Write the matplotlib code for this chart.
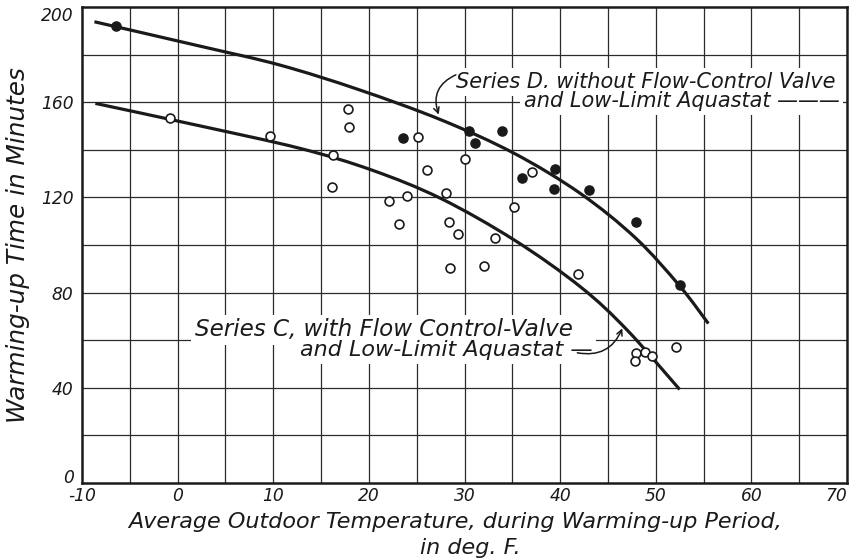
import matplotlib
matplotlib.use("Agg")
import matplotlib.pyplot as plt
from matplotlib.path import Path
from matplotlib.patches import PathPatch

# Measured points: Series D (without flow-control valve), solid dots
series_d_temp = [-6.4, 23.6, 30.5, 31.1, 33.9, 36.0, 39.5, 39.4, 43.0, 47.9, 52.5]
series_d_time = [192, 145, 148, 143, 148, 128, 132, 123.5, 123, 109.5, 83]

# Measured points: Series C (with flow-control valve), open circles
series_c_temp = [-0.8, 9.7, 17.8, 17.9, 25.1, 16.2, 30.0, 26.1, 16.1, 37.1,
                 22.1, 24.0, 28.1, 35.2, 23.1, 28.4, 29.3, 33.2, 28.5, 32.0,
                 41.9, 47.9, 48.9, 47.8, 49.6, 52.1]
series_c_time = [153.4, 146, 157, 149.7, 145.5, 137.8, 136.1, 131.5, 124.5, 130.8,
                 118.5, 120.6, 122, 116, 108.7, 109.5, 104.6, 103.1, 90.5, 91.3,
                 87.8, 54.8, 54.9, 51.4, 53.5, 57]

# Faired curves drawn through each series (knots of a smooth spline)
curve_d_temp = [-8.7, 2.4, 10.7, 19.0, 27.6, 35.2, 42.1, 47.9, 52.5, 55.5]
curve_d_time = [193.8, 183.5, 175.6, 165.2, 152.5, 138.5, 121.7, 102.9, 82.8, 67.0]

curve_c_temp = [-8.6, 2.4, 12.8, 20.3, 27.5, 35.2, 42.1, 47.0, 52.5]
curve_c_time = [159.5, 150.0, 140.6, 131.5, 119.6, 102.1, 82.5, 64.3, 39.3]

x_ticks = [-10, 0, 10, 20, 30, 40, 50, 60, 70]
y_ticks = [0, 40, 80, 120, 160, 200]

INK = "#1a1a1a"
FONT = dict(family="DejaVu Sans", style="oblique", color=INK)


def smooth_path(xs, ys):
    """Catmull-Rom spline through the knots, expressed as cubic Bezier segments."""
    pts = list(zip(xs, ys))
    verts = [pts[0]]
    codes = [Path.MOVETO]
    n = len(pts)
    for i in range(n - 1):
        p0 = pts[i - 1] if i > 0 else pts[i]
        p1 = pts[i]
        p2 = pts[i + 1]
        p3 = pts[i + 2] if i + 2 < n else pts[i + 1]
        c1 = (p1[0] + (p2[0] - p0[0]) / 6.0, p1[1] + (p2[1] - p0[1]) / 6.0)
        c2 = (p2[0] - (p3[0] - p1[0]) / 6.0, p2[1] - (p3[1] - p1[1]) / 6.0)
        verts += [c1, c2, p2]
        codes += [Path.CURVE4] * 3
    return Path(verts, codes)


fig = plt.figure(figsize=(8.49, 5.59), dpi=100)
ax = fig.add_axes([82 / 849, 76 / 559, 765 / 849, 476 / 559])

ax.set_xlim(-10, 70)
ax.set_ylim(0, 200)

# Drafting grid: every 5 deg and every 20 minutes
for gx in range(-5, 70, 5):
    ax.axvline(gx, color="#2b2b2b", lw=0.9, zorder=1)
for gy in range(20, 200, 20):
    ax.axhline(gy, color="#2b2b2b", lw=0.9, zorder=1)

for s in ax.spines.values():
    s.set_linewidth(1.8)
    s.set_color(INK)

ax.set_xticks(x_ticks)
ax.set_yticks(y_ticks)
ax.tick_params(axis="x", length=0, pad=3)
ax.tick_params(axis="y", length=0, pad=6)
ax.set_xticklabels([str(v) for v in x_ticks], fontsize=12.3, **FONT)
ax.set_yticklabels([str(v) for v in y_ticks], fontsize=12.3, **FONT)
ax.get_xticklabels()[-1].set_horizontalalignment("right")
ax.get_yticklabels()[-1].set_verticalalignment("top")
ax.get_yticklabels()[0].set_verticalalignment("baseline")

for xs, ys in ((curve_d_temp, curve_d_time), (curve_c_temp, curve_c_time)):
    ax.add_patch(PathPatch(smooth_path(xs, ys), facecolor="none",
                           edgecolor=INK, lw=2.3, capstyle="butt", zorder=3))

ax.plot(series_c_temp, series_c_time, linestyle="none", marker="o",
        markersize=6.4, markerfacecolor="white", markeredgecolor=INK,
        markeredgewidth=1.2, zorder=4)
ax.plot(series_d_temp, series_d_time, linestyle="none", marker="o",
        markersize=6.6, markerfacecolor=INK, markeredgecolor=INK, zorder=4)

box = dict(facecolor="white", edgecolor="none", pad=2.5)

# Series D label with hooked leader
ax.text(29.1, 168.5, "Series D, without Flow-Control Valve", fontsize=15,
        ha="left", va="center", bbox=box, zorder=5, **FONT)
ax.text(36.2, 160.3, "and Low-Limit Aquastat \u2014\u2014\u2014", fontsize=15,
        ha="left", va="center", bbox=box, zorder=5, **FONT)
ax.annotate("", xy=(27.3, 154.8), xytext=(29.1, 171.5),
            arrowprops=dict(arrowstyle="->", color=INK, lw=1.1,
                            shrinkA=0, shrinkB=0,
                            connectionstyle="arc3,rad=0.45"), zorder=6)

# Series C label with curved leader
ax.text(1.8, 64.3, "Series C, with Flow Control-Valve", fontsize=16.6,
        ha="left", va="center", bbox=box, zorder=5, **FONT)
ax.text(12.8, 55.9, "and Low-Limit Aquastat \u2014", fontsize=16,
        ha="left", va="center", bbox=box, zorder=5, **FONT)
ax.annotate("", xy=(46.5, 65.0), xytext=(41.8, 54.7),
            arrowprops=dict(arrowstyle="->", color=INK, lw=1.1,
                            shrinkA=0, shrinkB=0,
                            connectionstyle="arc3,rad=0.4"), zorder=6)

fig.text(18 / 849, 1 - 245 / 559, "Warming-up Time in Minutes", rotation=90,
         fontsize=17.8, ha="center", va="center", **FONT)
fig.text(455 / 849, 1 - 528 / 559,
         "Average Outdoor Temperature, during Warming-up Period,",
         fontsize=16, ha="center", va="baseline", **FONT)
fig.text(470 / 849, 1 - 553.6 / 559, "in deg. F.", fontsize=16,
         ha="center", va="baseline", **FONT)

fig.savefig("out.png", dpi=100)
